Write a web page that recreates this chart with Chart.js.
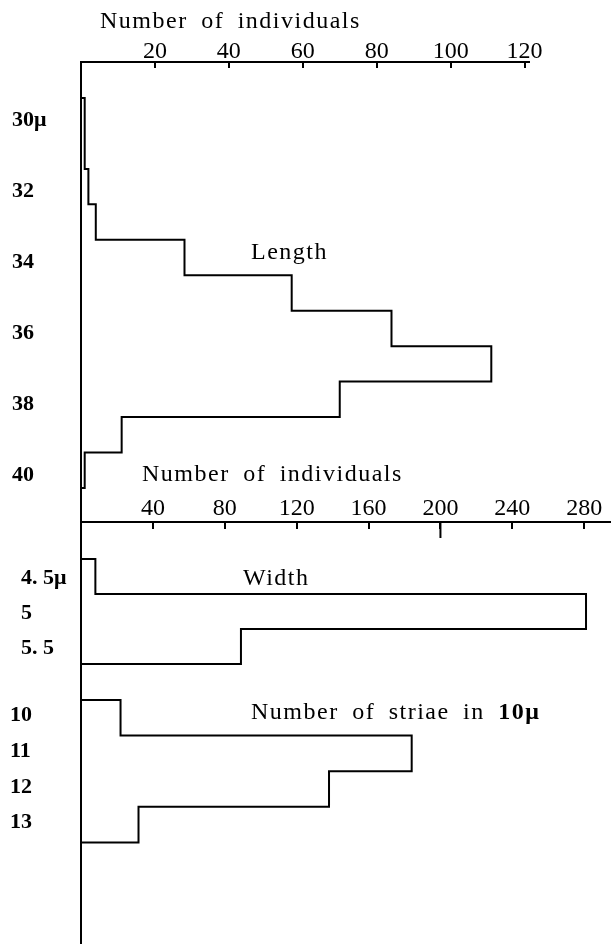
<!DOCTYPE html>
<html>
<head>
<meta charset="utf-8">
<script src="https://cdn.jsdelivr.net/npm/chart.js@4.4.1/dist/chart.umd.min.js"></script>
<style>
  body { margin: 0; background: #fff; }
  #wrap { position: relative; width: 611px; height: 945px; }
  canvas { position: absolute; left: 0; }
</style>
</head>
<body>
<div id="wrap">
  <canvas id="lengthChart" width="611" height="525" style="top:0"></canvas>
  <canvas id="widthChart" width="611" height="240" style="top:440px"></canvas>
  <canvas id="striaeChart" width="611" height="265" style="top:680px"></canvas>
</div>
<script>
// length classes 30..40 microns
const lengthLabels = ["30μ", "", "32", "", "34", "", "36", "", "38", "", "40"];
const lengthCounts = [1, 1, 2, 4, 28, 57, 84, 111, 70, 11, 1];
const lengthTicks = [20, 40, 60, 80, 100, 120];

const widthLabels = ["4. 5μ", "5", "5. 5"];
const widthCounts = [8, 281, 89];

const striaeLabels = ["10", "11", "12", "13"];
const striaeCounts = [22, 184, 138, 32];

const countTicks = [40, 80, 120, 160, 200, 240, 280];

const serif = "'Liberation Serif', 'DejaVu Serif', serif";

// step outline of a sideways histogram, class i spans y = i .. i+1
const outline = (counts) => {
  const pts = [{ x: 0, y: 0 }];
  counts.forEach((c, i) => {
    pts.push({ x: c, y: i });
    pts.push({ x: c, y: i + 1 });
  });
  pts.push({ x: 0, y: counts.length });
  return pts;
};

// free text on the plot; each note is a list of [text, weight] parts
const notes = (items) => ({
  id: "notes",
  afterDraw(chart) {
    const ctx = chart.ctx;
    ctx.save();
    ctx.fillStyle = "#000";
    ctx.textBaseline = "middle";
    ctx.letterSpacing = "1.5px";
    ctx.wordSpacing = "6px";
    items.forEach((n) => {
      let x = n.x;
      n.parts.forEach(([text, weight]) => {
        ctx.font = weight + " 24px " + serif;
        ctx.fillText(text, x, n.y);
        x += ctx.measureText(text).width;
      });
    });
    ctx.restore();
  },
});

const longTick = (value, len) => ({
  id: "longTick",
  afterDraw(chart) {
    const ctx = chart.ctx;
    const x = chart.scales.x.getPixelForValue(value);
    const top = chart.chartArea.top;
    ctx.save();
    ctx.strokeStyle = "#000";
    ctx.lineWidth = 2;
    ctx.beginPath();
    ctx.moveTo(x, top);
    ctx.lineTo(x, top + len);
    ctx.stroke();
    ctx.restore();
  },
});

const makeChart = (id, cfg) => {
  const xTicks = cfg.xTicks;
  return new Chart(document.getElementById(id), {
    type: "scatter",
    data: {
      datasets: [
        {
          data: outline(cfg.counts),
          showLine: true,
          borderColor: "#000",
          borderWidth: 2,
          pointRadius: 0,
          tension: 0,
          fill: false,
        },
      ],
    },
    options: {
      responsive: false,
      animation: false,
      layout: { padding: cfg.padding },
      plugins: { legend: { display: false }, tooltip: { enabled: false } },
      scales: {
        x: {
          type: "linear",
          position: "top",
          display: cfg.showX,
          min: 0,
          max: cfg.xMax,
          afterBuildTicks: (s) => {
            s.ticks = xTicks.map((v) => ({ value: v }));
          },
          afterFit: (s) => {
            s.height = cfg.xHeight;
            s.paddingLeft = 0;
            s.paddingRight = 0;
          },
          ticks: {
            autoSkip: false,
            maxRotation: 0,
            padding: cfg.xPad,
            color: "#000",
            font: { family: serif, size: 24 },
          },
          grid: {
            display: true,
            drawOnChartArea: false,
            drawTicks: true,
            tickLength: cfg.tickLen,
            color: "#000",
            lineWidth: 2,
          },
          border: { display: true, color: "#000", width: 2 },
        },
        y: {
          type: "linear",
          reverse: true,
          min: cfg.yMin,
          max: cfg.yMax,
          afterBuildTicks: (s) => {
            s.ticks = cfg.labels.map((_, i) => ({ value: i + 0.5 }));
          },
          afterFit: (s) => {
            s.width = cfg.yWidth;
            s.paddingTop = 0;
            s.paddingBottom = 0;
          },
          ticks: {
            autoSkip: false,
            crossAlign: "far",
            labelOffset: cfg.labelOffset,
            color: "#000",
            font: { family: serif, size: 22, weight: "bold" },
            callback: (v, i) => cfg.labels[i],
          },
          grid: { display: false },
          border: { display: true, color: "#000", width: 2 },
        },
      },
    },
    plugins: cfg.plugins,
  });
};

makeChart("lengthChart", {
  counts: lengthCounts,
  labels: lengthLabels,
  xTicks: lengthTicks,
  xMax: 121.2,
  showX: true,
  xHeight: 62,
  xPad: 2,
  tickLen: -6,
  yMin: -1.0155,
  yMax: 12.045,
  yWidth: 69,
  labelOffset: 5,
  padding: { left: 12, right: 82, top: 0, bottom: 0 },
  plugins: [
    notes([
      { parts: [["Number of individuals", "normal"]], x: 100, y: 21.5 },
      { parts: [["Length", "normal"]], x: 251, y: 253 },
    ]),
  ],
});

makeChart("widthChart", {
  counts: widthCounts,
  labels: widthLabels,
  xTicks: countTicks,
  xMax: 294.9,
  showX: true,
  xHeight: 82,
  xPad: 6,
  tickLen: -7,
  yMin: -1.057,
  yMax: 3.457,
  yWidth: 60,
  labelOffset: 2,
  padding: { left: 21, right: 0, top: 0, bottom: 0 },
  plugins: [
    notes([
      { parts: [["Number of individuals", "normal"]], x: 142, y: 35 },
      { parts: [["Width", "normal"]], x: 243, y: 138.7 },
    ]),
    longTick(200, 16),
  ],
});

makeChart("striaeChart", {
  counts: striaeCounts,
  labels: striaeLabels,
  xTicks: countTicks,
  xMax: 294.9,
  showX: false,
  xHeight: 0,
  xPad: 0,
  tickLen: 0,
  yMin: -0.5618,
  yMax: 6.826,
  yWidth: 71,
  labelOffset: -2,
  padding: { left: 10, right: 0, top: 0, bottom: 2 },
  plugins: [
    notes([
      { parts: [["Number of striae in ", "normal"], ["10μ", "bold"]], x: 251, y: 33 },
    ]),
  ],
});
</script>
</body>
</html>
